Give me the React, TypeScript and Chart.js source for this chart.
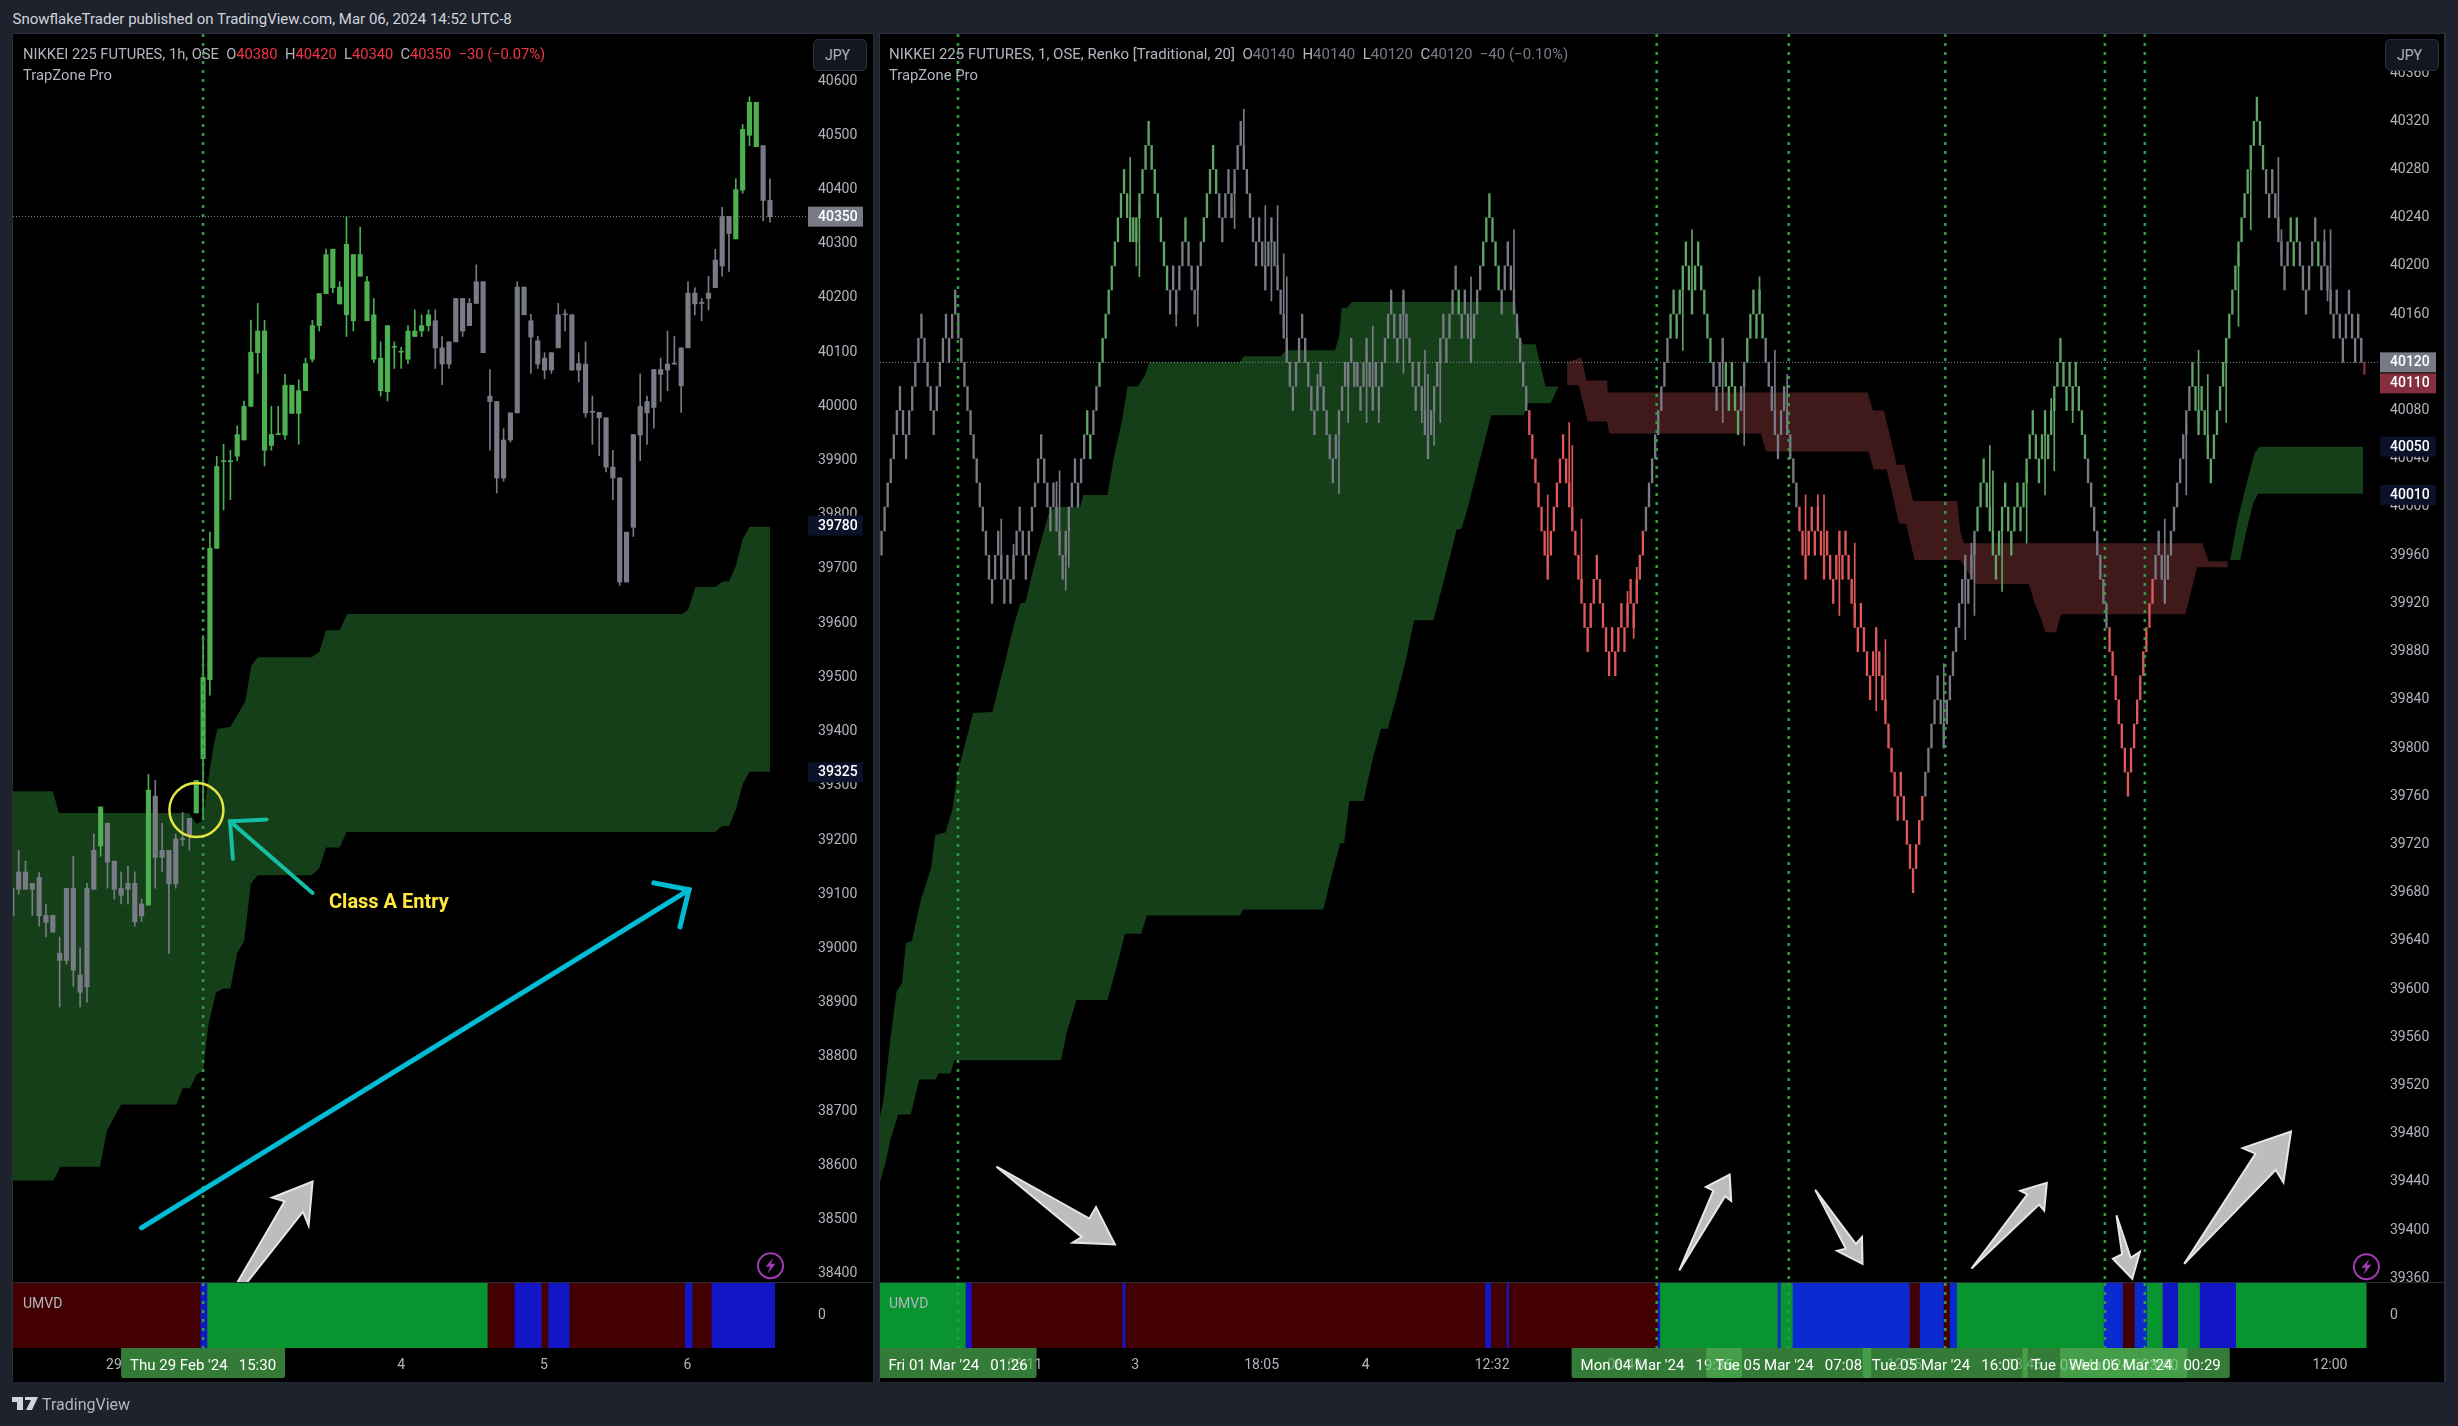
import { useEffect, useRef } from "react";
import Chart from "chart.js/auto";

// ---- left pane: 1h candles, index 28 is the entry bar
const leftTop = [
  39111, 39141, 39141, 39120, 39131, 39061, 39061, 38991, 39111, 39111, 38951, 39111, 39181, 39261,
  39231, 39161, 39111, 39120, 39120, 39082, 39292, 39281, 39181, 39181, 39202, 39201, 39240, 39310,
  39500, 39738, 39889, 39898, 39898, 39948, 40000, 40100, 40139, 40139, 39948, 39948, 40039, 40039,
  40029, 40079, 40149, 40208, 40280, 40290, 40220, 40299, 40280, 40280, 40230, 40169, 40089, 40149,
  40109, 40100, 40139, 40139, 40149, 40169, 40158, 40108, 40119, 40199, 40199, 40190, 40230, 40230,
  40019, 40009, 39938, 39988, 40220, 40220, 40158, 40121, 40089, 40099, 40169, 40169, 40169, 40079,
  40078, 39989, 39989, 39979, 39888, 39868, 39768, 39948, 40000, 40009, 40068, 40068, 40078, 40078,
  40108, 40209, 40209, 40190, 40209, 40270, 40350, 40350, 40400, 40511, 40561, 40561, 40481, 40380,
];
const leftBottom = [
  39060, 39109, 39109, 39109, 39060, 39048, 39030, 38978, 38978, 38960, 38919, 38929, 39109, 39189,
  39159, 39109, 39098, 39109, 39049, 39060, 39080, 39168, 39168, 39119, 39119, 39201, 39209, 39250,
  39350, 39496, 39738, 39898, 39898, 39908, 39938, 40000, 40099, 39919, 39928, 39948, 39947, 39987,
  39987, 40029, 40087, 40149, 40208, 40219, 40189, 40169, 40158, 40240, 40158, 40087, 40029, 40027,
  40109, 40100, 40087, 40129, 40139, 40149, 40108, 40078, 40078, 40119, 40139, 40149, 40190, 40099,
  40009, 39868, 39868, 39938, 39988, 40169, 40128, 40078, 40067, 40067, 40108, 40169, 40067, 40067,
  39988, 39989, 39979, 39888, 39868, 39676, 39676, 39777, 39947, 39988, 39998, 40059, 40067, 40078,
  40038, 40108, 40189, 40190, 40199, 40219, 40259, 40319, 40309, 40399, 40500, 40479, 40380, 40350,
];
const leftHigh = [
  39111, 39181, 39161, 39120, 39141, 39082, 39061, 39021, 39111, 39170, 39001, 39120, 39211, 39261,
  39231, 39161, 39141, 39152, 39141, 39091, 39321, 39310, 39231, 39181, 39211, 39251, 39240, 39310,
  39577, 39768, 39908, 39930, 39919, 39964, 40010, 40159, 40190, 40159, 40000, 40000, 40059, 40039,
  40049, 40089, 40159, 40208, 40290, 40290, 40230, 40350, 40280, 40331, 40240, 40199, 40119, 40149,
  40119, 40109, 40149, 40178, 40169, 40178, 40178, 40129, 40119, 40199, 40199, 40199, 40261, 40230,
  40068, 40009, 39959, 39988, 40230, 40220, 40170, 40129, 40099, 40099, 40190, 40178, 40169, 40099,
  40119, 40019, 39989, 39979, 39919, 39868, 39768, 39948, 40060, 40019, 40068, 40089, 40139, 40129,
  40108, 40230, 40219, 40199, 40240, 40290, 40367, 40350, 40420, 40520, 40571, 40561, 40481, 40420,
];
const leftLow = [
  39060, 39100, 39109, 39061, 39041, 39021, 39030, 38892, 38971, 38930, 38892, 38901, 39109, 39170,
  39111, 39091, 39082, 39082, 39041, 39050, 39080, 39111, 39141, 38991, 39111, 39190, 39181, 39250,
  39237, 39467, 39738, 39809, 39828, 39900, 39938, 40000, 40061, 39890, 39919, 39948, 39939, 39987,
  39930, 40029, 40082, 40139, 40208, 40210, 40189, 40129, 40139, 40240, 40158, 40081, 40019, 40010,
  40070, 40070, 40079, 40129, 40129, 40139, 40070, 40040, 40070, 40119, 40129, 40149, 40190, 40099,
  39919, 39840, 39862, 39934, 39988, 40169, 40061, 40070, 40051, 40061, 40108, 40139, 40067, 40045,
  39980, 39930, 39909, 39879, 39828, 39670, 39676, 39760, 39900, 39930, 39960, 40009, 40029, 40078,
  39989, 40108, 40169, 40158, 40178, 40219, 40240, 40249, 40309, 40393, 40481, 40479, 40342, 40340,
];
const leftGreen = [13, 20, 27, 28, 29, 30, 31, 32, 33, 34, 35, 36, 37, 38, 39, 40, 41, 42, 43, 44, 45, 46, 47, 48, 49, 50, 51, 52, 53, 54, 55, 56, 57, 58, 59, 60, 61, 106, 107, 108, 109];

const leftUpperSlots = [0, 6, 6.9, 25.95, 27, 28, 28.66, 29.5, 30.1, 32, 32.8, 34.2, 35.06, 36.05, 43.9, 45, 46, 48, 49.1, 98.1, 99, 100.1, 103, 104.1, 105, 106, 107, 108, 111];
const leftUpperPrices = [39290, 39290, 39250, 39250, 39230, 39236, 39303, 39371, 39405, 39409, 39426, 39456, 39522, 39537, 39537, 39547, 39587, 39587, 39617, 39617, 39624, 39667, 39667, 39677, 39677, 39705, 39755, 39778, 39778];
const leftLowerSlots = [0, 6.1, 7.1, 12.9, 13.9, 15, 16, 24.1, 25, 26.1, 27, 28, 28.8, 29.9, 31, 32, 33, 34, 35, 36, 43.9, 45, 46, 48, 49, 103, 104, 105, 106, 107, 108, 111];
const leftLowerPrices = [38572, 38572, 38597, 38597, 38663, 38689, 38712, 38712, 38742, 38742, 38767, 38774, 38860, 38919, 38926, 38926, 38992, 39013, 39120, 39135, 39135, 39148, 39186, 39186, 39215, 39215, 39226, 39226, 39256, 39303, 39326, 39326];

const leftPriceTicks = [40600, 40500, 40400, 40300, 40200, 40100, 40000, 39900, 39800, 39700, 39600, 39500, 39400, 39300, 39200, 39100, 39000, 38900, 38800, 38700, 38600, 38500, 38400];
const leftTimeSlots = [14.95, 57, 77.9, 98.9];
const leftTimeLabels = ["29", "4", "5", "6"];
const leftEntrySlots = [28];
const leftTagSlots = [28];
const leftTagDates = ["Thu 29 Feb '24"];
const leftTagTimes = ["15:30"];

const leftUmvdStart = [0, 27.67, 28.66, 69.7, 73.65, 77.6, 78.6, 81.7, 98.6, 99.7, 102.5];
const leftUmvdEnd = [27.67, 28.66, 69.7, 73.65, 77.6, 78.6, 81.7, 98.6, 99.7, 102.5, 111.7];
const leftUmvdState = ["sell", "deep", "buy", "sell", "deep", "sell", "deep", "sell", "deep", "sell", "deep"];

// ---- right pane: renko, lower edge of each 20 point brick
const renkoLow = [
  39960, 39980, 40000, 40020, 40040, 40060, 40080, 40060, 40040, 40060,
  40080, 40100, 40120, 40140, 40120, 40100, 40080, 40060, 40080, 40100,
  40120, 40140, 40120, 40140, 40160, 40140, 40120, 40100, 40080, 40060,
  40040, 40020, 40000, 39980, 39960, 39940, 39920, 39940, 39960, 39940,
  39920, 39940, 39920, 39940, 39960, 39980, 39960, 39940, 39960, 39980,
  40000, 40020, 40040, 40020, 40000, 39980, 40000, 39980, 39960, 39940,
  39960, 39980, 40000, 40020, 40000, 40020, 40040, 40060, 40040, 40060,
  40080, 40100, 40120, 40140, 40160, 40180, 40200, 40220, 40240, 40260,
  40240, 40220, 40220, 40220, 40240, 40260, 40280, 40300, 40280, 40260,
  40240, 40220, 40200, 40180, 40160, 40180, 40160, 40180, 40200, 40220,
  40200, 40180, 40160, 40180, 40200, 40220, 40240, 40260, 40280, 40260,
  40240, 40220, 40240, 40260, 40240, 40260, 40280, 40300, 40280, 40260,
  40240, 40220, 40200, 40220, 40200, 40180, 40200, 40220, 40200, 40180,
  40160, 40140, 40120, 40100, 40080, 40100, 40120, 40140, 40120, 40100,
  40080, 40060, 40080, 40100, 40080, 40060, 40040, 40020, 40040, 40060,
  40080, 40100, 40100, 40120, 40100, 40100, 40080, 40100, 40120, 40100,
  40080, 40100, 40080, 40100, 40120, 40140, 40160, 40140, 40120, 40140,
  40160, 40140, 40120, 40100, 40080, 40100, 40080, 40060, 40040, 40060,
  40080, 40100, 40120, 40140, 40120, 40140, 40160, 40180, 40160, 40140,
  40160, 40140, 40120, 40140, 40160, 40180, 40200, 40220, 40240, 40220,
  40200, 40180, 40160, 40180, 40200, 40180, 40160, 40140, 40120, 40100,
  40080, 40060, 40040, 40020, 40000, 39980, 39960, 39940, 39960, 39980,
  40000, 40020, 40040, 40020, 40000, 39980, 39960, 39940, 39920, 39900,
  39880, 39900, 39920, 39940, 39920, 39900, 39880, 39860, 39880, 39860,
  39880, 39900, 39880, 39900, 39920, 39900, 39920, 39940, 39960, 39980,
  40000, 40020, 40040, 40060, 40080, 40100, 40120, 40140, 40160, 40140,
  40160, 40180, 40200, 40180, 40160, 40180, 40200, 40180, 40160, 40140,
  40120, 40100, 40080, 40100, 40120, 40100, 40080, 40100, 40080, 40060,
  40080, 40100, 40120, 40140, 40160, 40140, 40160, 40140, 40120, 40100,
  40080, 40060, 40040, 40060, 40080, 40060, 40040, 40020, 40000, 39980,
  39960, 39940, 39960, 39980, 39960, 39980, 39960, 39940, 39960, 39940,
  39920, 39940, 39960, 39940, 39960, 39940, 39920, 39900, 39880, 39900,
  39880, 39860, 39840, 39860, 39880, 39860, 39840, 39820, 39800, 39780,
  39760, 39740, 39760, 39740, 39720, 39700, 39680, 39700, 39720, 39740,
  39760, 39780, 39800, 39820, 39840, 39820, 39800, 39820, 39840, 39860,
  39880, 39900, 39920, 39940, 39920, 39940, 39960, 39980, 40000, 40020,
  40000, 39980, 39960, 39940, 39960, 39980, 40000, 39980, 39960, 39980,
  40000, 39980, 40000, 40020, 40040, 40060, 40040, 40020, 40040, 40060,
  40040, 40060, 40080, 40100, 40120, 40100, 40080, 40100, 40080, 40100,
  40080, 40060, 40040, 40020, 40000, 39980, 39960, 39940, 39920, 39900,
  39880, 39860, 39840, 39820, 39800, 39780, 39760, 39780, 39800, 39820,
  39840, 39860, 39880, 39900, 39920, 39940, 39960, 39940, 39920, 39940,
  39960, 39980, 40000, 40020, 40040, 40060, 40080, 40100, 40080, 40060,
  40080, 40060, 40040, 40020, 40040, 40060, 40080, 40100, 40120, 40140,
  40160, 40180, 40200, 40220, 40240, 40260, 40280, 40300, 40320, 40300,
  40280, 40260, 40240, 40260, 40240, 40220, 40200, 40180, 40200, 40220,
  40200, 40220, 40200, 40180, 40160, 40180, 40200, 40220, 40200, 40180,
  40200, 40180, 40160, 40140, 40160, 40140, 40120, 40140, 40160, 40140,
  40120, 40140, 40120,
];
const renkoToneEnd = [67, 69, 71, 94, 99, 100, 105, 110, 188, 189, 196, 202, 211, 249, 257, 271, 275, 280, 282, 288, 299, 340, 357, 393, 400, 415, 427, 451, 459, 462, 468, 469, 484];
const renkoToneName = ["n", "g", "n", "g", "n", "g", "n", "g", "n", "g", "n", "g", "n", "r", "n", "g", "n", "g", "n", "g", "n", "r", "n", "g", "n", "r", "n", "g", "n", "g", "n", "g", "n"];
const renkoWickSlot = [39, 43, 57, 58, 60, 61, 81, 83, 84, 96, 103, 114, 115, 118, 125, 127, 129, 131, 132, 142, 149, 152, 158, 160, 162, 170, 177, 176, 178, 180, 182, 192, 206, 217, 224, 225, 228, 243, 245, 246, 261, 264, 274, 281, 286, 291, 295, 296, 301, 305, 307, 312, 317, 324, 327, 346, 353, 356, 355, 361, 362, 365, 373, 379, 381, 382, 388, 418, 425, 429, 432, 438, 442, 446, 454, 455, 456, 470, 471, 472];
const renkoWickTip = [39990, 39969, 40021, 40030, 39931, 39950, 40290, 40200, 40191, 40150, 40150, 40240, 40231, 40330, 40250, 40171, 40250, 40210, 40191, 40110, 40011, 40070, 40070, 40150, 40070, 40111, 40130, 40070, 40110, 40051, 40070, 40191, 40230, 40010, 40070, 40051, 39990, 39930, 39891, 39950, 40130, 40230, 40070, 40051, 40191, 40130, 40110, 40051, 40010, 40010, 40010, 39910, 39970, 39831, 39890, 39870, 39890, 39910, 39970, 40051, 40030, 39930, 39970, 40010, 40090, 40030, 40070, 39990, 40010, 40130, 40110, 40070, 40150, 40230, 40240, 40290, 40230, 40230, 40171, 40230];

const greenUpperSlots = [0, 1.2, 3.4, 5.4, 7.2, 8.4, 10.4, 13.3, 16.7, 18, 21.3, 23.6, 25.3, 27.5, 30.3, 36.6, 40.8, 43.8, 45.7, 47.4, 49.9, 54.9, 56.9, 65.2, 66.2, 74.1, 76.1, 79, 80.6, 84, 86.4, 87.8, 117.2, 118.5, 130.5, 132.1, 148.2, 149.6, 150.4, 152, 153.7, 206.9, 208.5, 209.4, 213.5, 216.8, 221];
const greenUpperPrices = [39494, 39509, 39559, 39598, 39605, 39638, 39640, 39674, 39701, 39728, 39730, 39749, 39780, 39801, 39829, 39830, 39872, 39904, 39920, 39921, 39948, 39994, 40000, 40000, 40010, 40010, 40040, 40074, 40100, 40100, 40110, 40120, 40120, 40125, 40125, 40130, 40130, 40142, 40165, 40165, 40170, 40170, 40141, 40135, 40135, 40100, 40100];
const greenLowerSlots = [0, 1.7, 3.4, 5.9, 10, 12.8, 18, 19.2, 23, 24.2, 59, 60.7, 64, 74.1, 76.5, 79.8, 85.1, 86.9, 117.2, 118.3, 144.4, 147.1, 149.9, 151.2, 152.9, 157.5, 160.4, 163.2, 165.4, 167.8, 171.2, 174, 180.3, 186.1, 187.8, 189.4, 191.1, 192.8, 199.1, 209.7, 211, 218.5, 221];
const greenLowerPrices = [39440, 39455, 39475, 39496, 39496, 39525, 39525, 39530, 39530, 39541, 39541, 39563, 39591, 39591, 39613, 39646, 39646, 39661, 39661, 39666, 39666, 39694, 39721, 39721, 39756, 39756, 39790, 39816, 39816, 39838, 39872, 39906, 39906, 39963, 39981, 39982, 39996, 40013, 40076, 40076, 40086, 40086, 40100];

const redUpperSlots = [223.8, 228.5, 230.1, 236.8, 237.1, 321.7, 323.4, 327, 331.2, 333.7, 336.5, 350.9, 351.9, 353.1, 430.7, 432.8, 439];
const redUpperPrices = [40120, 40124, 40105, 40105, 40095, 40095, 40080, 40080, 40035, 40035, 40005, 40005, 39979, 39970, 39970, 39955, 39955];
const redLowerSlots = [223.8, 227.6, 230.5, 236.8, 237.6, 286.9, 288.6, 322, 323.7, 327.9, 332, 334.2, 337, 351.9, 356.9, 374.3, 376, 378.4, 379.6, 383.1, 384.7, 425.2, 429, 439];
const redLowerPrices = [40101, 40101, 40071, 40071, 40061, 40061, 40046, 40046, 40031, 40031, 39986, 39986, 39956, 39956, 39936, 39936, 39921, 39906, 39896, 39896, 39911, 39911, 39950, 39950];

const lateUpperSlots = [439.8, 442.3, 445.6, 447.8, 449.4, 483.1];
const lateUpperPrices = [39956, 39990, 40024, 40045, 40050, 40050];
const lateLowerSlots = [439.8, 443.1, 444.8, 447.3, 448.9, 483.1];
const lateLowerPrices = [39956, 39956, 39977, 40003, 40011, 40011];

const rightPriceTicks = [40360, 40320, 40280, 40240, 40200, 40160, 40120, 40080, 40040, 40000, 39960, 39920, 39880, 39840, 39800, 39760, 39720, 39680, 39640, 39600, 39560, 39520, 39480, 39440, 39400, 39360];
const rightTimeSlots = [47.2, 83.1, 124.3, 158.2, 199.4, 242.6, 333.7, 372.8, 414, 472.3];
const rightTimeLabels = ["06:11", "3", "18:05", "4", "12:32", "06:49", "12:05", "18:45", "23:40", "12:00"];
const rightEntrySlots = [25.4, 253, 296, 347, 399, 412];
const rightTagSlots = [25.4, 253, 296, 347, 399, 412];
const rightTagDates = ["Fri 01 Mar '24", "Mon 04 Mar '24", "Tue 05 Mar '24", "Tue 05 Mar '24", "Tue 05 Mar '24", "Wed 06 Mar '24"];
const rightTagTimes = ["01:26", "19:35", "07:08", "16:00", "23:40", "00:29"];

const rightUmvdStart = [0, 28, 30, 79.1, 80.1, 197.2, 199.2, 204.2, 205, 253.4, 254.2, 292.5, 293.5, 297.4, 335.5, 338.8, 346.6, 348.6, 350.9, 398.7, 405, 408.8, 412.8, 417.9, 422.9, 430, 441.8];
const rightUmvdEnd = [28, 30, 79.1, 80.1, 197.2, 199.2, 204.2, 205, 253.4, 254.2, 292.5, 293.5, 297.4, 335.5, 338.8, 346.6, 348.6, 350.9, 398.7, 405, 408.8, 412.8, 417.9, 422.9, 430, 441.8, 484.1];
const rightUmvdState = ["buy", "deep", "sell", "deep", "sell", "deep", "sell", "deep", "sell", "deep", "buy", "blue", "buy", "blue", "sell", "blue", "sell", "blue", "buy", "blue", "sell", "blue", "buy", "deep", "buy", "deep", "buy"];

const STATE_COLORS: Record<string, string> = { buy: "#089530", sell: "#420000", deep: "#1216c4", blue: "#0a2ad0" };
const TONE_COLORS: Record<string, string> = { g: "#4caf50", n: "#787b86", r: "#ef5350" };
const RENKO_COLORS: Record<string, string> = { g: "#5fa565", n: "#787b86", r: "#e0595a" };
const FONT = "Roboto";
const AXIS_TEXT = "#b2b5be";
const DOT_GREEN = "#2f9a3f";

const points = (xs: number[], ys: number[]) => xs.map((x, i) => ({ x, y: ys[i] }));

const band = (upX: number[], upY: number[], loX: number[], loY: number[], color: string) => [
  { type: "line", data: points(upX, upY), fill: "+1", backgroundColor: color, borderWidth: 0, pointRadius: 0, tension: 0, order: 10 },
  { type: "line", data: points(loX, loY), fill: false, borderWidth: 0, pointRadius: 0, tension: 0, order: 10 },
];

const polygon = (ctx: CanvasRenderingContext2D, pts: number[][]) => {
  ctx.beginPath();
  pts.forEach(([x, y], i) => (i ? ctx.lineTo(x, y) : ctx.moveTo(x, y)));
};

// hand drawn marks of the published picture, in page pixels
const leftGreyArrows = [
  [[233, 1290], [284.5, 1201.4], [272, 1197.7], [312.6, 1181.5], [308.6, 1225.5], [303, 1211.6], [241, 1290]],
];
const rightGreyArrows = [
  [[996.5, 1166.7], [1089.4, 1218.5], [1096, 1207], [1114.9, 1244.4], [1072.6, 1242.6], [1081.7, 1237]],
  [[1679.3, 1270.4], [1713.4, 1190.7], [1705.8, 1187], [1729.7, 1174.5], [1731.2, 1200.9], [1725.1, 1196.3]],
  [[1815.2, 1189.8], [1855.9, 1244], [1862, 1237], [1862.5, 1263.9], [1837, 1250.9], [1845.8, 1248.6]],
  [[1971.5, 1268.5], [2027.4, 1194.4], [2020.3, 1190.7], [2046.8, 1182.9], [2044.2, 1210.6], [2039.1, 1204.6]],
  [[2116.5, 1215.3], [2130.7, 1257.9], [2139.9, 1251.9], [2132.3, 1278.7], [2112.9, 1258.8], [2122.1, 1254.2]],
  [[2184.2, 1263.9], [2255.4, 1153.7], [2242.7, 1148.1], [2291, 1131.5], [2283.4, 1182.4], [2275.8, 1169.9]],
];

const drawGreyArrows = (ctx: CanvasRenderingContext2D, arrows: number[][][]) => {
  ctx.fillStyle = "#bdbdbd";
  ctx.strokeStyle = "#e6e6e6";
  ctx.lineWidth = 2;
  ctx.lineJoin = "miter";
  arrows.forEach((a) => {
    polygon(ctx, a);
    ctx.closePath();
    ctx.fill();
    ctx.stroke();
  });
};

const drawBolt = (ctx: CanvasRenderingContext2D, x: number, y: number) => {
  ctx.strokeStyle = "#a23cb4";
  ctx.lineWidth = 2;
  ctx.beginPath();
  ctx.arc(x, y, 12.5, 0, Math.PI * 2);
  ctx.stroke();
  ctx.fillStyle = "#a23cb4";
  polygon(ctx, [[x + 3, y - 8], [x - 5, y + 1], [x - 0.5, y + 1], [x - 3, y + 8], [x + 5, y - 2], [x + 0.5, y - 2]]);
  ctx.closePath();
  ctx.fill();
};

const drawLeftMarks = (ctx: CanvasRenderingContext2D) => {
  ctx.strokeStyle = "#e4e640";
  ctx.lineWidth = 2.5;
  ctx.beginPath();
  ctx.arc(196.4, 810, 27, 0, Math.PI * 2);
  ctx.stroke();

  ctx.lineCap = "round";
  ctx.strokeStyle = "#14bfa5";
  ctx.lineWidth = 4;
  polygon(ctx, [[312.6, 893], [230, 821.3]]);
  ctx.stroke();
  polygon(ctx, [[266.6, 819.4], [230, 821.3], [232.9, 858.8]]);
  ctx.stroke();

  ctx.strokeStyle = "#00bcd4";
  ctx.lineWidth = 5;
  polygon(ctx, [[141.4, 1227.8], [689, 889.8]]);
  ctx.stroke();
  polygon(ctx, [[653.8, 882.9], [689, 889.8], [680, 926.9]]);
  ctx.stroke();
  ctx.lineCap = "butt";

  ctx.fillStyle = "#ffe93b";
  ctx.font = `bold 20px ${FONT}`;
  ctx.textAlign = "left";
  ctx.textBaseline = "middle";
  ctx.fillText("Class A Entry", 329, 903);

  drawGreyArrows(ctx, leftGreyArrows);
  drawBolt(ctx, 770.5, 1265.7);
};

const drawRightMarks = (ctx: CanvasRenderingContext2D) => {
  drawGreyArrows(ctx, rightGreyArrows);
  drawBolt(ctx, 2366.4, 1266.7);
};

// price flags on the axis: value, fill, extra shift so they do not collide
const leftFlagValues = [40350, 39780, 39325];
const leftFlagFills = ["#787b86", "#0a1128", "#0a1128"];
const leftFlagShifts = [0, 0, 0];
const rightFlagValues = [40120, 40110, 40050, 40010];
const rightFlagFills = ["#787b86", "#85303f", "#0a1128", "#0a1128"];
const rightFlagShifts = [0, 9, 0, 0];

const verticals = (chart: any, slots: number[]) => {
  const { ctx, chartArea, scales } = chart;
  ctx.save();
  ctx.strokeStyle = DOT_GREEN;
  ctx.lineWidth = 2.6;
  ctx.setLineDash([3, 6]);
  slots.forEach((s) => {
    const x = scales.x.getPixelForValue(s);
    ctx.beginPath();
    ctx.moveTo(x, chartArea.top);
    ctx.lineTo(x, chartArea.bottom);
    ctx.stroke();
  });
  ctx.restore();
};

const priceChart = (
  canvas: HTMLCanvasElement,
  cfg: {
    left: number;
    top: number;
    axis: number;
    xMin: number;
    xMax: number;
    yMin: number;
    yMax: number;
    ticks: number[];
    datasets: any[];
    slots: number[];
    lastPrice: number;
    flagValues: number[];
    flagFills: string[];
    flagShifts: number[];
    flagWidth: number;
    marks: (ctx: CanvasRenderingContext2D) => void;
  }
) =>
  new Chart(canvas, {
    type: "bar",
    data: { datasets: cfg.datasets },
    options: {
      responsive: false,
      animation: false,
      devicePixelRatio: 1,
      events: [],
      layout: { padding: 0 },
      plugins: { legend: { display: false }, tooltip: { enabled: false } },
      scales: {
        x: { type: "linear", display: false, offset: false, min: cfg.xMin, max: cfg.xMax, grid: { display: false } },
        y: {
          position: "right",
          min: cfg.yMin,
          max: cfg.yMax,
          grid: { display: false, drawTicks: false },
          border: { display: false },
          afterBuildTicks: (s: any) => {
            s.ticks = cfg.ticks.map((value) => ({ value }));
          },
          afterFit: (s: any) => {
            s.width = cfg.axis;
            s.paddingTop = 0;
            s.paddingBottom = 0;
          },
          ticks: {
            color: AXIS_TEXT,
            font: { family: FONT, size: 14 },
            padding: 10,
            autoSkip: false,
            callback: (v: any) => String(v),
          },
        },
      },
    },
    plugins: [
      {
        id: "paneMarks",
        afterDatasetsDraw(chart: any) {
          const { ctx, chartArea, scales } = chart;
          verticals(chart, cfg.slots);
          const py = scales.y.getPixelForValue(cfg.lastPrice);
          ctx.save();
          ctx.strokeStyle = "#8a8d96";
          ctx.lineWidth = 1;
          ctx.setLineDash([1, 2]);
          ctx.beginPath();
          ctx.moveTo(chartArea.left, py);
          ctx.lineTo(chartArea.right, py);
          ctx.stroke();
          ctx.restore();

          ctx.save();
          ctx.translate(-cfg.left, -cfg.top);
          cfg.marks(ctx);
          ctx.restore();
        },
        afterDraw(chart: any) {
          const { ctx, chartArea, scales } = chart;
          ctx.save();
          ctx.font = `500 14px ${FONT}`;
          ctx.textAlign = "left";
          ctx.textBaseline = "middle";
          cfg.flagValues.forEach((v, i) => {
            const y = scales.y.getPixelForValue(v) + cfg.flagShifts[i];
            ctx.fillStyle = cfg.flagFills[i];
            ctx.fillRect(chartArea.right, y - 10, cfg.flagWidth, 20);
            ctx.fillStyle = "#ffffff";
            ctx.fillText(String(v), chartArea.right + 10, y + 0.5);
          });
          ctx.restore();
        },
      },
    ],
  } as any);

const umvdChart = (
  canvas: HTMLCanvasElement,
  cfg: {
    axis: number;
    xMin: number;
    xMax: number;
    start: number[];
    end: number[];
    state: string[];
    timeSlots: number[];
    timeLabels: string[];
    slots: number[];
    tagSlots: number[];
    tagDates: string[];
    tagTimes: string[];
  }
) =>
  new Chart(canvas, {
    type: "bar",
    data: {
      labels: ["0"],
      datasets: [
        {
          data: cfg.start.map((s, i) => ({ x: [s, cfg.end[i]], y: "0" })),
          backgroundColor: cfg.state.map((s) => STATE_COLORS[s]),
          barThickness: 65,
          borderWidth: 0,
          grouped: false,
        },
      ],
    },
    options: {
      indexAxis: "y",
      responsive: false,
      animation: false,
      devicePixelRatio: 1,
      events: [],
      layout: { padding: 0 },
      plugins: { legend: { display: false }, tooltip: { enabled: false } },
      scales: {
        x: {
          type: "linear",
          position: "bottom",
          min: cfg.xMin,
          max: cfg.xMax,
          grid: { display: false, drawTicks: false },
          border: { display: false },
          afterBuildTicks: (s: any) => {
            s.ticks = cfg.timeSlots.map((value) => ({ value }));
          },
          afterFit: (s: any) => {
            s.height = 34;
            s.paddingLeft = 0;
            s.paddingRight = 0;
          },
          ticks: {
            color: AXIS_TEXT,
            font: { family: FONT, size: 14 },
            padding: 9,
            autoSkip: false,
            maxRotation: 0,
            callback: (_v: any, i: number) => cfg.timeLabels[i],
          },
        },
        y: {
          type: "category",
          position: "right",
          grid: { display: false, drawTicks: false },
          border: { display: false },
          afterFit: (s: any) => {
            s.width = cfg.axis;
            s.paddingTop = 0;
            s.paddingBottom = 0;
          },
          ticks: { color: AXIS_TEXT, font: { family: FONT, size: 14 }, padding: 10 },
        },
      },
    },
    plugins: [
      {
        id: "umvdMarks",
        afterDatasetsDraw(chart: any) {
          verticals(chart, cfg.slots);
        },
        afterDraw(chart: any) {
          const { ctx, chartArea, scales } = chart;
          ctx.save();
          ctx.font = `15px ${FONT}`;
          ctx.textAlign = "center";
          ctx.textBaseline = "middle";
          cfg.tagSlots.forEach((s, i) => {
            const label = `${cfg.tagDates[i]}   ${cfg.tagTimes[i]}`;
            const w = ctx.measureText(label).width + 18;
            const x = scales.x.getPixelForValue(s);
            ctx.fillStyle = "rgba(76,175,80,0.7)";
            ctx.beginPath();
            ctx.roundRect(x - w / 2, chartArea.bottom, w, 30, [0, 0, 2, 2]);
            ctx.fill();
            ctx.fillStyle = "#ffffff";
            ctx.fillText(label, x, chartArea.bottom + 18);
          });
          ctx.restore();
        },
      },
    ],
  } as any);

const bodyColors = leftTop.map((_, i) => (leftGreen.includes(i) ? TONE_COLORS.g : TONE_COLORS.n));
const renkoColors = renkoLow.map((_, i) => {
  const run = renkoToneEnd.findIndex((end) => i < end);
  return RENKO_COLORS[renkoToneName[run] ?? "n"];
});

const Text = ({ x, y, color = AXIS_TEXT, size = 15, children }: any) => (
  <div
    style={{
      position: "absolute",
      left: x,
      top: y,
      transform: "translateY(-50%)",
      color,
      fontFamily: FONT,
      fontSize: size,
      whiteSpace: "pre",
      lineHeight: 1,
    }}
  >
    {children}
  </div>
);

const Button = ({ x, w }: { x: number; w: number }) => (
  <div
    style={{
      position: "absolute",
      left: x,
      top: 39,
      width: w,
      height: 32,
      boxSizing: "border-box",
      background: "#131722",
      border: "1px solid #2a2e39",
      borderRadius: 5,
      color: AXIS_TEXT,
      fontFamily: FONT,
      fontSize: 14,
      lineHeight: "30px",
      paddingLeft: 11,
    }}
  >
    JPY
  </div>
);

const Frame = ({ x, y, w, h, bg }: { x: number; y: number; w: number; h: number; bg: string }) => (
  <div style={{ position: "absolute", left: x, top: y, width: w, height: h, background: bg }} />
);

const abs = (left: number, top: number, background = "#000") => ({ position: "absolute" as const, left, top, background, display: "block" });

const App = () => {
  const leftMain = useRef<HTMLCanvasElement>(null);
  const leftInd = useRef<HTMLCanvasElement>(null);
  const rightMain = useRef<HTMLCanvasElement>(null);
  const rightInd = useRef<HTMLCanvasElement>(null);

  useEffect(() => {
    if (!leftMain.current || !leftInd.current || !rightMain.current || !rightInd.current) return;

    const charts = [
      priceChart(leftMain.current, {
        left: 13,
        top: 34,
        axis: 65,
        xMin: 0.17,
        xMax: 116.57,
        yMin: 38384.6,
        yMax: 40687,
        ticks: leftPriceTicks,
        slots: leftEntrySlots,
        lastPrice: 40350,
        flagValues: leftFlagValues,
        flagFills: leftFlagFills,
        flagShifts: leftFlagShifts,
        flagWidth: 55,
        marks: drawLeftMarks,
        datasets: [
          ...band(leftUpperSlots, leftUpperPrices, leftLowerSlots, leftLowerPrices, "#153f18"),
          {
            data: leftTop.map((_, i) => ({ x: i, y: [leftLow[i], leftHigh[i]] })),
            backgroundColor: bodyColors,
            barThickness: 1,
            grouped: false,
            order: 2,
          },
          {
            data: leftTop.map((t, i) => ({ x: i, y: [leftBottom[i], t] })),
            backgroundColor: bodyColors,
            barThickness: 4.5,
            minBarLength: 1,
            grouped: false,
            order: 1,
          },
        ],
      }),
      umvdChart(leftInd.current, {
        axis: 65,
        xMin: 0.17,
        xMax: 116.57,
        start: leftUmvdStart,
        end: leftUmvdEnd,
        state: leftUmvdState,
        timeSlots: leftTimeSlots,
        timeLabels: leftTimeLabels,
        slots: leftEntrySlots,
        tagSlots: leftTagSlots,
        tagDates: leftTagDates,
        tagTimes: leftTagTimes,
      }),
      priceChart(rightMain.current, {
        left: 880,
        top: 34,
        axis: 64,
        xMin: 0,
        xMax: 488.6,
        yMin: 39357,
        yMax: 40392.4,
        ticks: rightPriceTicks,
        slots: rightEntrySlots,
        lastPrice: 40120,
        flagValues: rightFlagValues,
        flagFills: rightFlagFills,
        flagShifts: rightFlagShifts,
        flagWidth: 56,
        marks: drawRightMarks,
        datasets: [
          ...band(greenUpperSlots, greenUpperPrices, greenLowerSlots, greenLowerPrices, "#153f18"),
          ...band(redUpperSlots, redUpperPrices, redLowerSlots, redLowerPrices, "#401a1a"),
          ...band(lateUpperSlots, lateUpperPrices, lateLowerSlots, lateLowerPrices, "#153f18"),
          {
            data: renkoWickSlot.map((s, i) => ({ x: s + 0.5, y: [renkoWickTip[i], renkoLow[s] + 10].sort((a, b) => a - b) })),
            backgroundColor: renkoWickSlot.map((s) => renkoColors[s]),
            barThickness: 1,
            grouped: false,
            order: 2,
          },
          {
            data: renkoLow.map((l, i) => ({ x: i + 0.5, y: [l, l + 20] })),
            backgroundColor: renkoColors,
            barThickness: 1.7,
            grouped: false,
            order: 1,
          },
          {
            data: [{ x: renkoLow.length + 0.5, y: [40110, 40120] }],
            backgroundColor: "#85303f",
            barThickness: 1.7,
            grouped: false,
            order: 1,
          },
        ],
      }),
      umvdChart(rightInd.current, {
        axis: 64,
        xMin: 0,
        xMax: 488.6,
        start: rightUmvdStart,
        end: rightUmvdEnd,
        state: rightUmvdState,
        timeSlots: rightTimeSlots,
        timeLabels: rightTimeLabels,
        slots: rightEntrySlots,
        tagSlots: rightTagSlots,
        tagDates: rightTagDates,
        tagTimes: rightTagTimes,
      }),
    ];

    return () => {
      charts.forEach((c) => c.destroy());
    };
  }, []);

  return (
    <div style={{ position: "absolute", left: 0, top: 0, width: 2458, height: 1426, overflow: "hidden", background: "#1e222d" }}>
      <Text x={12.5} y={19} color="#d1d4dc">
        SnowflakeTrader published on TradingView.com, Mar 06, 2024 14:52 UTC-8
      </Text>

      <Frame x={12} y={33} w={862} h={1349} bg="#2a2e39" />
      <Frame x={879} y={33} w={1567} h={1349} bg="#2a2e39" />

      <canvas ref={leftMain} width={860} height={1248} style={abs(13, 34)} />
      <canvas ref={leftInd} width={860} height={99} style={abs(13, 1283)} />
      <canvas ref={rightMain} width={1564} height={1248} style={abs(880, 34)} />
      <canvas ref={rightInd} width={1564} height={99} style={abs(880, 1283)} />

      <Text x={23} y={54} size={14.7}>
        NIKKEI 225 FUTURES, 1h, OSE{"  "}O<span style={{ color: "#f23645" }}>40380</span>
        {"  "}H<span style={{ color: "#f23645" }}>40420</span>
        {"  "}L<span style={{ color: "#f23645" }}>40340</span>
        {"  "}C<span style={{ color: "#f23645" }}>40350</span>
        <span style={{ color: "#f23645" }}>{"  "}−30 (−0.07%)</span>
      </Text>
      <Text x={23} y={75} size={14.8}>TrapZone Pro</Text>
      <Text x={23} y={1303} size={14}>UMVD</Text>

      <Text x={889} y={54}>
        NIKKEI 225 FUTURES, 1, OSE, Renko [Traditional, 20]{"  "}O<span style={{ color: "#787b86" }}>40140</span>
        {"  "}H<span style={{ color: "#787b86" }}>40140</span>
        {"  "}L<span style={{ color: "#787b86" }}>40120</span>
        {"  "}C<span style={{ color: "#787b86" }}>40120</span>
        <span style={{ color: "#787b86" }}>{"  "}−40 (−0.10%)</span>
      </Text>
      <Text x={889} y={75} size={14.8}>TrapZone Pro</Text>
      <Text x={889} y={1303} size={14}>UMVD</Text>

      <Button x={813} w={54} />
      <Button x={2385} w={54} />

      <svg style={{ position: "absolute", left: 12, top: 1397 }} width="26" height="13" viewBox="0 0 26 13">
        <path d="M0 0h11v13H5V5H0z M13 0h13l-6 13h-6l5-10h-6z" fill="#d1d4dc" />
      </svg>
      <Text x={42} y={1405} size={16} color="#b2b5be">TradingView</Text>
    </div>
  );
};

export default App;
